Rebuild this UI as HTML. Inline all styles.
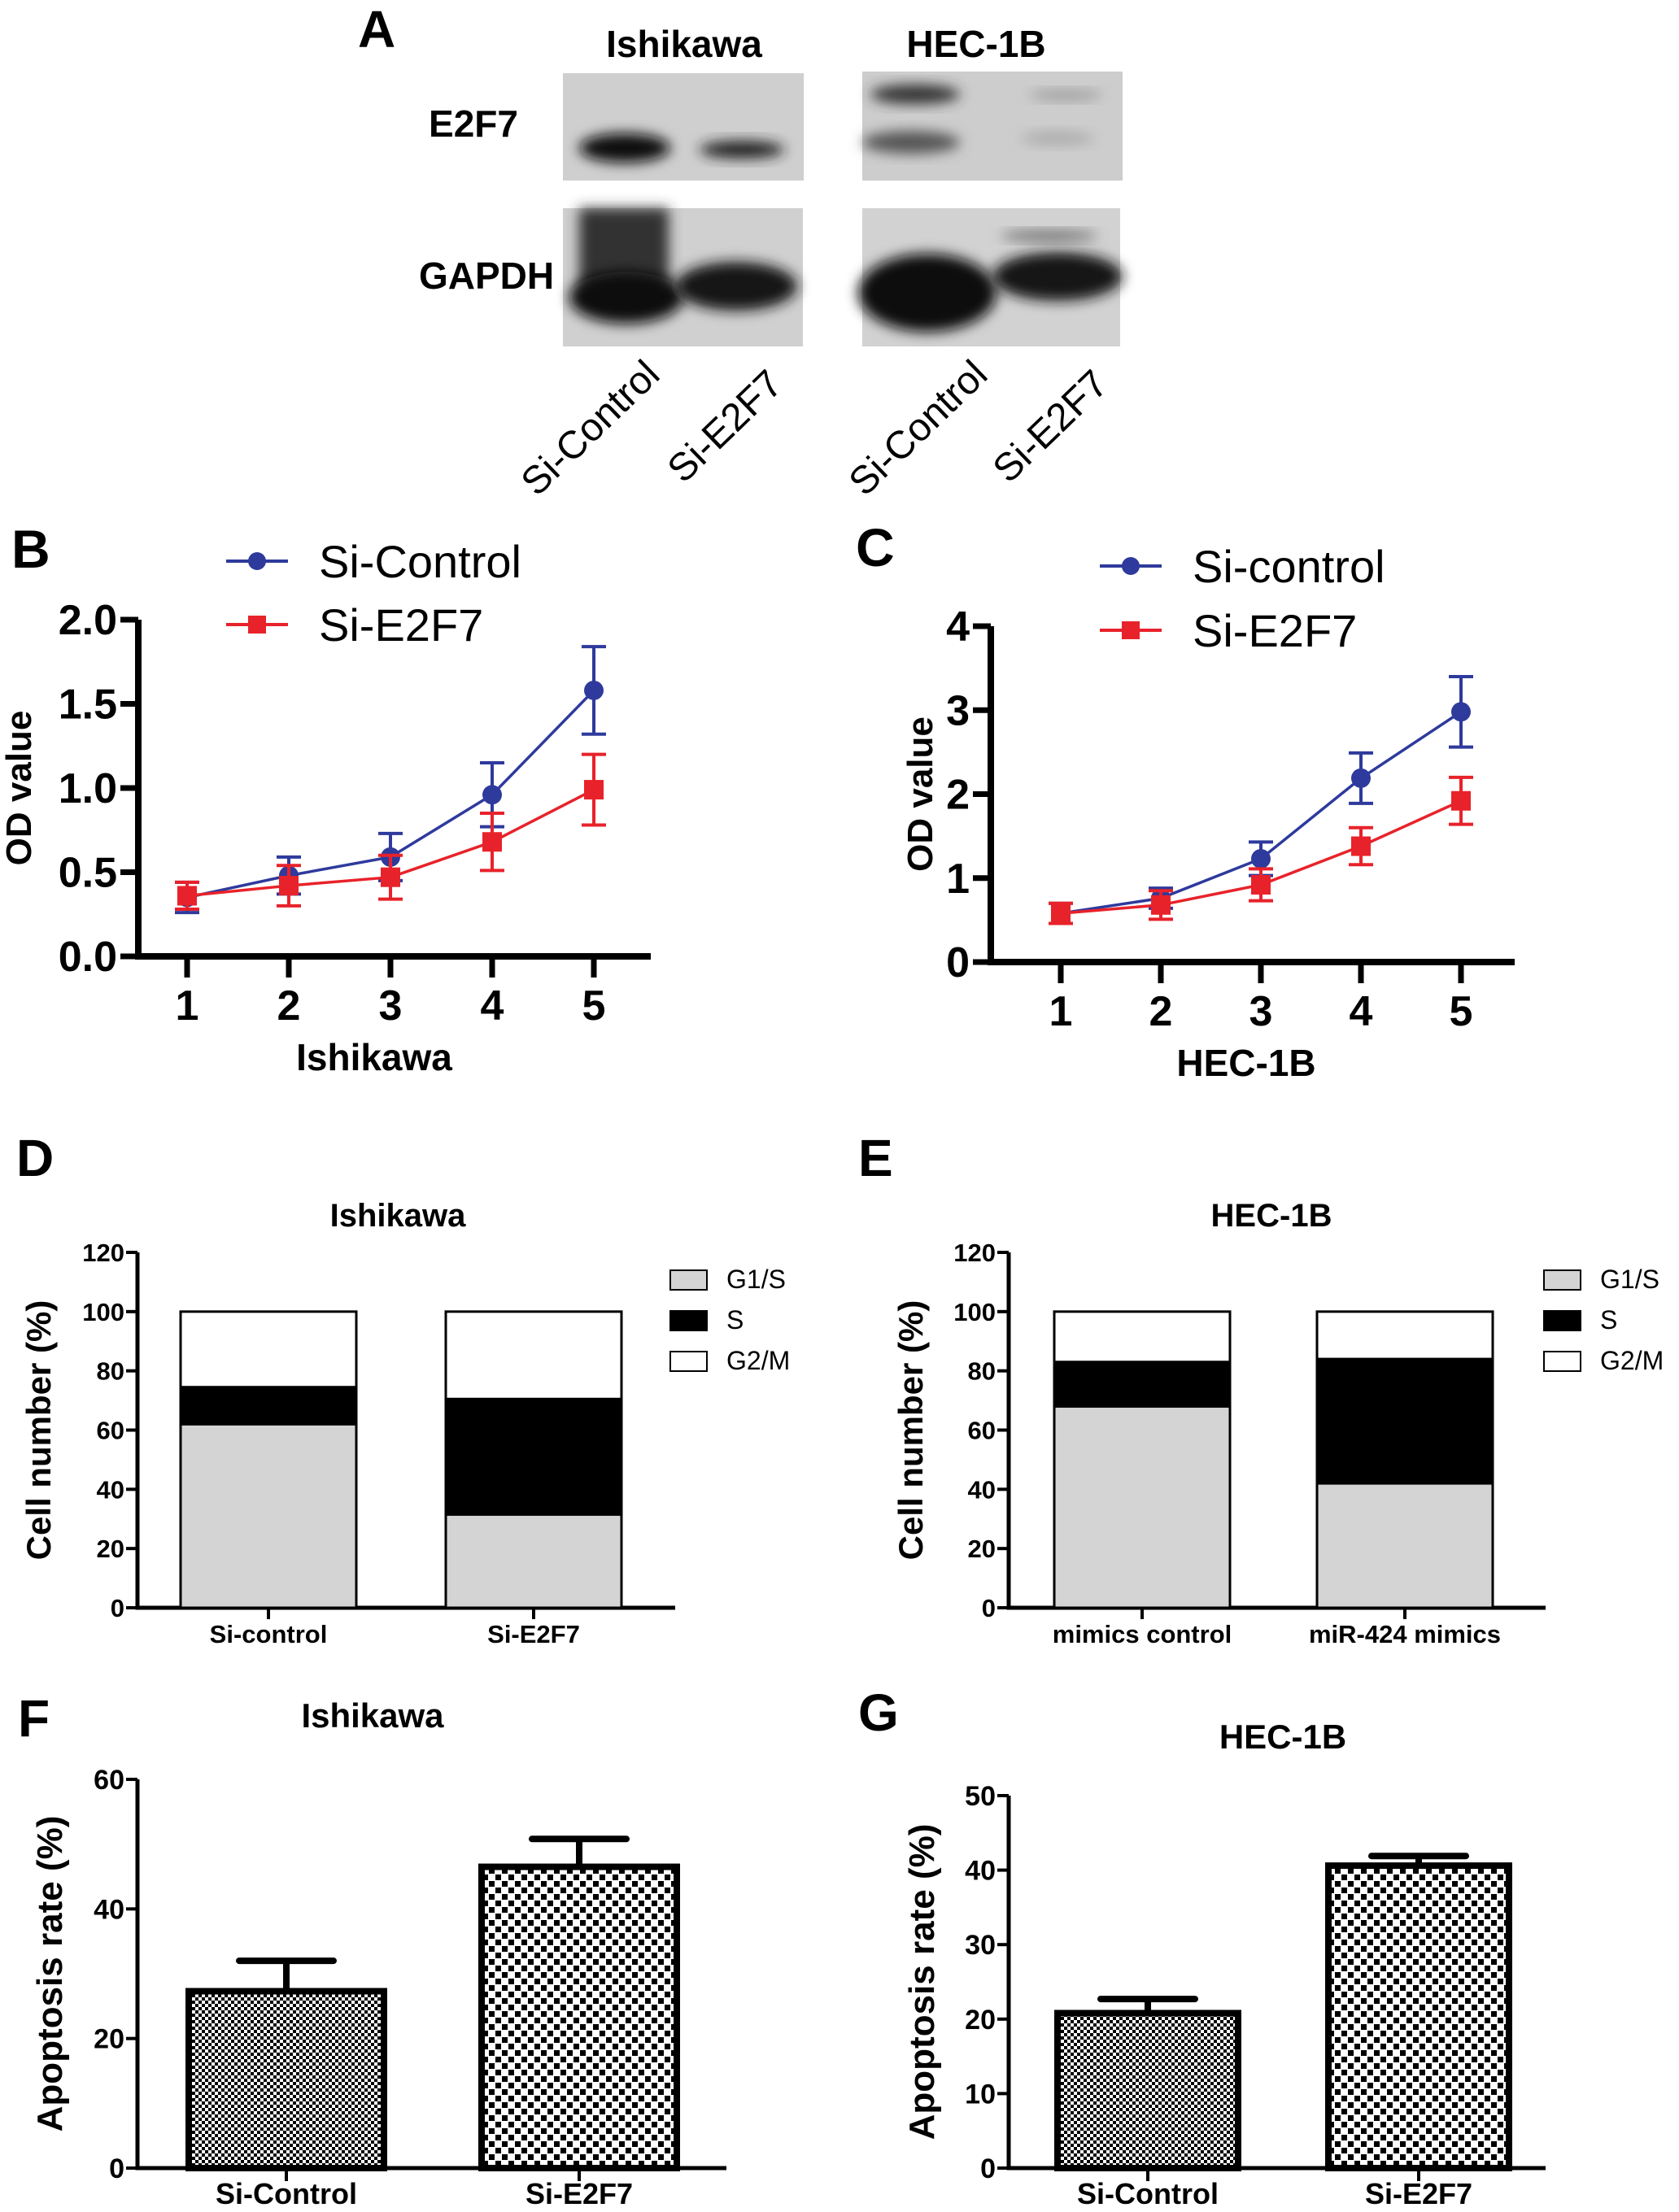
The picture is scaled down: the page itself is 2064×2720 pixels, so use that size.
<!DOCTYPE html>
<html><head><meta charset="utf-8"><style>
html,body{margin:0;padding:0;background:#fff;}
svg{display:block;}
text{font-family:"Liberation Sans Narrow","Liberation Sans",sans-serif;font-weight:bold;fill:#000;}
.w{font-family:"Liberation Sans",sans-serif;}
.reg{font-weight:normal;}
</style></head><body>
<svg id="fig" xmlns="http://www.w3.org/2000/svg" width="2064" height="2720" viewBox="0 0 2064 2720">
<defs>
<pattern id="chkFine" width="8" height="8" patternUnits="userSpaceOnUse"><rect width="8" height="8" fill="#fff"/><rect width="4" height="4" fill="#000"/><rect x="4" y="4" width="4" height="4" fill="#000"/></pattern>
<pattern id="chkCoarse" width="16" height="16" patternUnits="userSpaceOnUse"><rect width="16" height="16" fill="#fff"/><rect x="1" y="1" width="7" height="7" fill="#000"/><rect x="9" y="9" width="7" height="7" fill="#000"/></pattern>
<filter id="blur" x="-20%" y="-50%" width="140%" height="200%"><feGaussianBlur stdDeviation="8"/></filter>
</defs>
<!-- Panel A -->
<g>
<text x="440" y="58" font-size="64" class="w">A</text>
<text x="841" y="70" font-size="46" text-anchor="middle">Ishikawa</text>
<text x="1200" y="70" font-size="46" text-anchor="middle">HEC-1B</text>
<text x="582" y="168" font-size="46" text-anchor="middle">E2F7</text>
<text x="598" y="355" font-size="46" text-anchor="middle">GAPDH</text>
<g>
<rect x="692" y="90" width="296" height="132" fill="#cfcfcf"/>
<ellipse cx="768" cy="182" rx="56" ry="18" fill="#111" filter="url(#blur)"/>
<ellipse cx="912" cy="184" rx="52" ry="11" fill="#222" filter="url(#blur)"/>
</g>
<g>
<rect x="1060" y="88" width="320" height="134" fill="#cdcdcd"/>
<ellipse cx="1125" cy="116" rx="55" ry="12" fill="#333" filter="url(#blur)"/>
<ellipse cx="1120" cy="175" rx="60" ry="14" fill="#555" filter="url(#blur)"/>
<ellipse cx="1310" cy="117" rx="45" ry="6" fill="#999" filter="url(#blur)"/>
<ellipse cx="1300" cy="170" rx="45" ry="8" fill="#aaa" filter="url(#blur)"/>
</g>
<g>
<rect x="692" y="256" width="295" height="170" fill="#d0d0d0"/>
<rect x="712" y="256" width="110" height="110" fill="#333" filter="url(#blur)"/>
<ellipse cx="770" cy="366" rx="70" ry="32" fill="#111" filter="url(#blur)"/>
<ellipse cx="905" cy="352" rx="75" ry="30" fill="#151515" filter="url(#blur)"/>
</g>
<g>
<rect x="1060" y="256" width="317" height="170" fill="#d2d2d2"/>
<ellipse cx="1140" cy="360" rx="85" ry="48" fill="#111" filter="url(#blur)"/>
<ellipse cx="1300" cy="340" rx="80" ry="30" fill="#151515" filter="url(#blur)"/>
<ellipse cx="1290" cy="290" rx="60" ry="6" fill="#666" filter="url(#blur)"/>
</g>
<text transform="translate(660,612) rotate(-44)" font-size="48" class="w reg">Si-Control</text>
<text transform="translate(840,596) rotate(-44)" font-size="48" class="w reg">Si-E2F7</text>
<text transform="translate(1063,612) rotate(-44)" font-size="48" class="w reg">Si-Control</text>
<text transform="translate(1240,596) rotate(-44)" font-size="48" class="w reg">Si-E2F7</text>
</g>
<g id="charts"></g>
</svg>
<script>
// Panel B data (Ishikawa OD)
const bDays = [1, 2, 3, 4, 5];
const bCtrl = [0.35, 0.48, 0.59, 0.96, 1.58];
const bCtrlErr = [0.09, 0.11, 0.14, 0.19, 0.26];
const bE2f7 = [0.36, 0.42, 0.47, 0.68, 0.99];
const bE2f7Err = [0.08, 0.12, 0.13, 0.17, 0.21];
const bTicks = ["0.0", "0.5", "1.0", "1.5", "2.0"];
// Panel C data (HEC-1B OD)
const cDays = [1, 2, 3, 4, 5];
const cCtrl = [0.58, 0.76, 1.23, 2.19, 2.98];
const cCtrlErr = [0.12, 0.12, 0.2, 0.3, 0.42];
const cE2f7 = [0.58, 0.68, 0.92, 1.38, 1.92];
const cE2f7Err = [0.12, 0.17, 0.19, 0.22, 0.28];
const cTicks = ["0", "1", "2", "3", "4"];
// Panel D data (Ishikawa cell cycle)
const dCats = ["Si-control", "Si-E2F7"];
const dG1 = [62, 31.5];
const dS = [12.5, 39];
const dG2 = [25.5, 29.5];
// Panel E data (HEC-1B cell cycle)
const eCats = ["mimics control", "miR-424 mimics"];
const eG1 = [68, 42];
const eS = [15, 42];
const eG2 = [17, 16];
const cycleTicks = ["0", "20", "40", "60", "80", "100", "120"];
// Panel F data
const fCats = ["Si-Control", "Si-E2F7"];
const fVals = [27.3, 46.5];
const fErr = [4.7, 4.3];
const fTicks = ["0", "20", "40", "60"];
// Panel G data
const gCats = ["Si-Control", "Si-E2F7"];
const gVals = [20.8, 40.6];
const gErr = [1.9, 1.3];
const gTicks = ["0", "10", "20", "30", "40", "50"];

const NS = "http://www.w3.org/2000/svg";
const root = document.getElementById("charts");
function mk(parent, tag, attrs, txt) {
  const e = document.createElementNS(NS, tag);
  for (const k in attrs) e.setAttribute(k, attrs[k]);
  if (txt !== undefined) e.textContent = txt;
  parent.appendChild(e);
  return e;
}
function group(name) {
  const g = mk(root, "g", {});
  
  
  return g;
}
function label(g, x, y, size, txt, name, extra) {
  const a = Object.assign({x: x, y: y, "font-size": size}, extra || {});
  const t = mk(g, "text", a, txt);
  
  
  return t;
}

function lineChart(o) {
  const g = group(o.name);
  const ys = v => o.y0 - (v / o.ymax) * (o.y0 - o.ytop);
  const xs = i => o.x1 + i * o.dx;
  const ax = mk(g, "path", {d: `M${o.ax} ${o.ytop} V${o.y0} H${o.axEnd}`, fill: "none", stroke: "#000", "stroke-width": 8});
  
  
  o.ticks.forEach((t, i) => {
    const v = i * o.ymax / (o.ticks.length - 1);
    const y = ys(v);
    const tk = mk(g, "line", {x1: o.ax - 22, x2: o.ax, y1: y, y2: y, stroke: "#000", "stroke-width": 7});
    
    
    label(g, o.ax - 26, y + 18, 52, t, 'y-tick-label', {"text-anchor": "end"});
  });
  o.days.forEach((d, i) => {
    const x = xs(i);
    const tk = mk(g, "line", {x1: x, x2: x, y1: o.y0, y2: o.y0 + 26, stroke: "#000", "stroke-width": 7});
    
    
    label(g, x, o.y0 + 78, 52, String(d), 'x-tick-label', {"text-anchor": "middle"});
  });
  label(g, o.xtx, o.y0 + 140, 46, o.xTitle, 'x-axis-title', {"text-anchor": "middle", "class": "w"});
  label(g, 0, 0, 44, "OD value", 'y-axis-title', {"text-anchor": "middle", "class": "w", transform: `translate(${o.ylx},${(o.ytop + o.y0) / 2}) rotate(-90)`});
  const series = [
    {v: o.ctrl, e: o.ctrlErr, c: "#2e3a9c", m: "circle", n: "control"},
    {v: o.e2f7, e: o.e2f7Err, c: "#e8222a", m: "square", n: "e2f7"}
  ];
  series.forEach(s => {
    const sg = mk(g, "g", {});
    
    
    s.v.forEach((v, i) => {
      const x = xs(i), yt = ys(v + s.e[i]), yb = ys(v - s.e[i]);
      const eb = mk(sg, "path", {d: `M${x} ${yt} V${yb} M${x - 15} ${yt} H${x + 15} M${x - 15} ${yb} H${x + 15}`, stroke: s.c, "stroke-width": 4, fill: "none"});
      
      
    });
    const pl = mk(sg, "polyline", {points: s.v.map((v, i) => xs(i) + "," + ys(v)).join(" "), fill: "none", stroke: s.c, "stroke-width": 3.5});
    
    
    s.v.forEach((v, i) => {
      let p;
      if (s.m === "circle") p = mk(sg, "circle", {cx: xs(i), cy: ys(v), r: 12, fill: s.c});
      else p = mk(sg, "rect", {x: xs(i) - 12, y: ys(v) - 12, width: 24, height: 24, fill: s.c});
      
      
    });
  });
  const lg = [["circle", "#2e3a9c", o.l1, o.ly1], ["square", "#e8222a", o.l2, o.ly2]];
  lg.forEach((l, i) => {
    const ln = mk(g, "line", {x1: o.lx, x2: o.lx + 76, y1: l[3], y2: l[3], stroke: l[1], "stroke-width": 4});
    
    
    let m;
    if (l[0] === "circle") m = mk(g, "circle", {cx: o.lx + 38, cy: l[3], r: 11, fill: l[1]});
    else m = mk(g, "rect", {x: o.lx + 27, y: l[3] - 11, width: 22, height: 22, fill: l[1]});
    
    
    label(g, o.lx + 114, l[3] + 20, 56, l[2], 'legend-entry', {"class": "reg"});
  });
  label(g, o.px, o.py, 66, o.plabel, 'panel-label', {"class": "w"});
}

lineChart({name: "panel-b-od-ishikawa", ax: 170, y0: 1176, ytop: 762, ymax: 2, axEnd: 800, x1: 230, dx: 125,
  days: bDays, ctrl: bCtrl, ctrlErr: bCtrlErr, e2f7: bE2f7, e2f7Err: bE2f7Err, ticks: bTicks, xtx: 460,
  xTitle: "Ishikawa", ylx: 38, lx: 278, ly1: 690, ly2: 768, l1: "Si-Control", l2: "Si-E2F7", px: 14, py: 698, plabel: "B"});
lineChart({name: "panel-c-od-hec1b", ax: 1218, y0: 1183, ytop: 770, ymax: 4, axEnd: 1862, x1: 1304, dx: 123,
  days: cDays, ctrl: cCtrl, ctrlErr: cCtrlErr, e2f7: cE2f7, e2f7Err: cE2f7Err, ticks: cTicks, xtx: 1532,
  xTitle: "HEC-1B", ylx: 1146, lx: 1352, ly1: 696, ly2: 775, l1: "Si-control", l2: "Si-E2F7", px: 1052, py: 696, plabel: "C"});

function stackChart(o) {
  const g = group(o.name);
  const ys = v => o.y0 - (v / 120) * (o.y0 - o.ytop);
  const ax = mk(g, "path", {d: `M${o.ax} ${o.ytop} V${o.y0} H${o.axEnd}`, fill: "none", stroke: "#000", "stroke-width": 5});
  
  
  cycleTicks.forEach((t, i) => {
    const y = ys(i * 20);
    const tk = mk(g, "line", {x1: o.ax - 14, x2: o.ax, y1: y, y2: y, stroke: "#000", "stroke-width": 4});
    
    
    label(g, o.ax - 16, y + 11, 31, t, 'y-tick-label', {"text-anchor": "end"});
  });
  const cols = ["#d4d4d4", "#000", "#fff"];
  const names = ["g1s", "s", "g2m"];
  o.cats.forEach((c, i) => {
    const x = o.bx[i];
    let base = 0;
    [o.g1, o.s, o.g2].forEach((arr, k) => {
      const v = arr[i];
      const r = mk(g, "rect", {x: x, y: ys(base + v), width: o.bw, height: ys(base) - ys(base + v), fill: cols[k], stroke: "#000", "stroke-width": 3});
      
      
      base += v;
    });
    const cx = x + o.bw / 2;
    const tk = mk(g, "line", {x1: cx, x2: cx, y1: o.y0, y2: o.y0 + 14, stroke: "#000", "stroke-width": 4});
    
    
    label(g, cx, o.y0 + 43, 31, c, 'x-tick-label', {"text-anchor": "middle", "class": "w"});
  });
  label(g, o.titleX, 1508, 40, o.title, 'chart-title', {"text-anchor": "middle"});
  label(g, 0, 0, 42, "Cell number (%)", 'y-axis-title', {"text-anchor": "middle", "class": "w", transform: `translate(${o.ylx},${(o.ytop + o.y0) / 2}) rotate(-90)`});
  ["G1/S", "S", "G2/M"].forEach((n, k) => {
    const y = 1562 + k * 50;
    const b = mk(g, "rect", {x: o.lgx, y: y, width: 45, height: 24, fill: cols[k], stroke: "#000", "stroke-width": 2});
    
    
    label(g, o.lgx + 69, y + 22, 32, n, 'legend-entry', {"class": "reg"});
  });
  label(g, o.px, 1446, 64, o.plabel, 'panel-label', {"class": "w"});
}
stackChart({name: "panel-d-cell-cycle-ishikawa", ax: 169, y0: 1977, ytop: 1540, axEnd: 830, cats: dCats, g1: dG1, s: dS, g2: dG2,
  bx: [222, 548], bw: 216, title: "Ishikawa", titleX: 489, ylx: 62, lgx: 824, px: 20, plabel: "D"});
stackChart({name: "panel-e-cell-cycle-hec1b", ax: 1240, y0: 1977, ytop: 1540, axEnd: 1900, cats: eCats, g1: eG1, s: eS, g2: eG2,
  bx: [1296, 1619], bw: 216, title: "HEC-1B", titleX: 1563, ylx: 1134, lgx: 1898, px: 1055, plabel: "E"});

function barChart(o) {
  const g = group(o.name);
  const ys = v => o.y0 - (v / o.ymax) * (o.y0 - o.ytop);
  const ax = mk(g, "path", {d: `M${o.ax} ${o.ytop} V${o.y0} H${o.axEnd}`, fill: "none", stroke: "#000", "stroke-width": 5});
  
  
  o.ticks.forEach((t, i) => {
    const y = ys(i * o.ymax / (o.ticks.length - 1));
    const tk = mk(g, "line", {x1: o.ax - 14, x2: o.ax, y1: y, y2: y, stroke: "#000", "stroke-width": 4});
    
    
    label(g, o.ax - 16, y + 12, 34, t, 'y-tick-label', {"text-anchor": "end"});
  });
  const pats = ["url(#chkFine)", "url(#chkCoarse)"];
  o.cats.forEach((c, i) => {
    const x = o.bx[i], cx = x + o.bw / 2;
    const top = ys(o.vals[i]), et = ys(o.vals[i] + o.err[i]);
    const eb = mk(g, "path", {d: `M${cx} ${top} V${et} M${cx - 58} ${et} H${cx + 58}`, stroke: "#000", "stroke-width": 8, fill: "none", "stroke-linecap": "round"});
    
    
    const r = mk(g, "rect", {x: x, y: top, width: o.bw, height: o.y0 - top, fill: pats[i], stroke: "#000", "stroke-width": 8});
    
    
    const tk = mk(g, "line", {x1: cx, x2: cx, y1: o.y0, y2: o.y0 + 16, stroke: "#000", "stroke-width": 4});
    
    
    label(g, cx, o.y0 + 44, 36, c, 'x-tick-label', {"text-anchor": "middle"});
  });
  label(g, o.titleX, o.titleY, 42, o.title, 'chart-title', {"text-anchor": "middle"});
  label(g, 0, 0, 44, "Apoptosis rate (%)", 'y-axis-title', {"text-anchor": "middle", "class": "w", transform: `translate(${o.ylx},${(o.ytop + o.y0) / 2}) rotate(-90)`});
  label(g, o.px, o.py, 64, o.plabel, 'panel-label', {"class": "w"});
}
barChart({name: "panel-f-apoptosis-ishikawa", ax: 169, y0: 2666, ytop: 2188, ymax: 60, axEnd: 893, ticks: fTicks, cats: fCats, vals: fVals, err: fErr,
  bx: [232, 592], bw: 240, title: "Ishikawa", titleX: 458, titleY: 2124, ylx: 76, px: 22, py: 2135, plabel: "F"});
barChart({name: "panel-g-apoptosis-hec1b", ax: 1240, y0: 2666, ytop: 2208, ymax: 50, axEnd: 1900, ticks: gTicks, cats: gCats, vals: gVals, err: gErr,
  bx: [1300, 1633], bw: 222, title: "HEC-1B", titleX: 1577, titleY: 2150, ylx: 1148, px: 1055, py: 2128, plabel: "G"});
</script>
</body></html>
